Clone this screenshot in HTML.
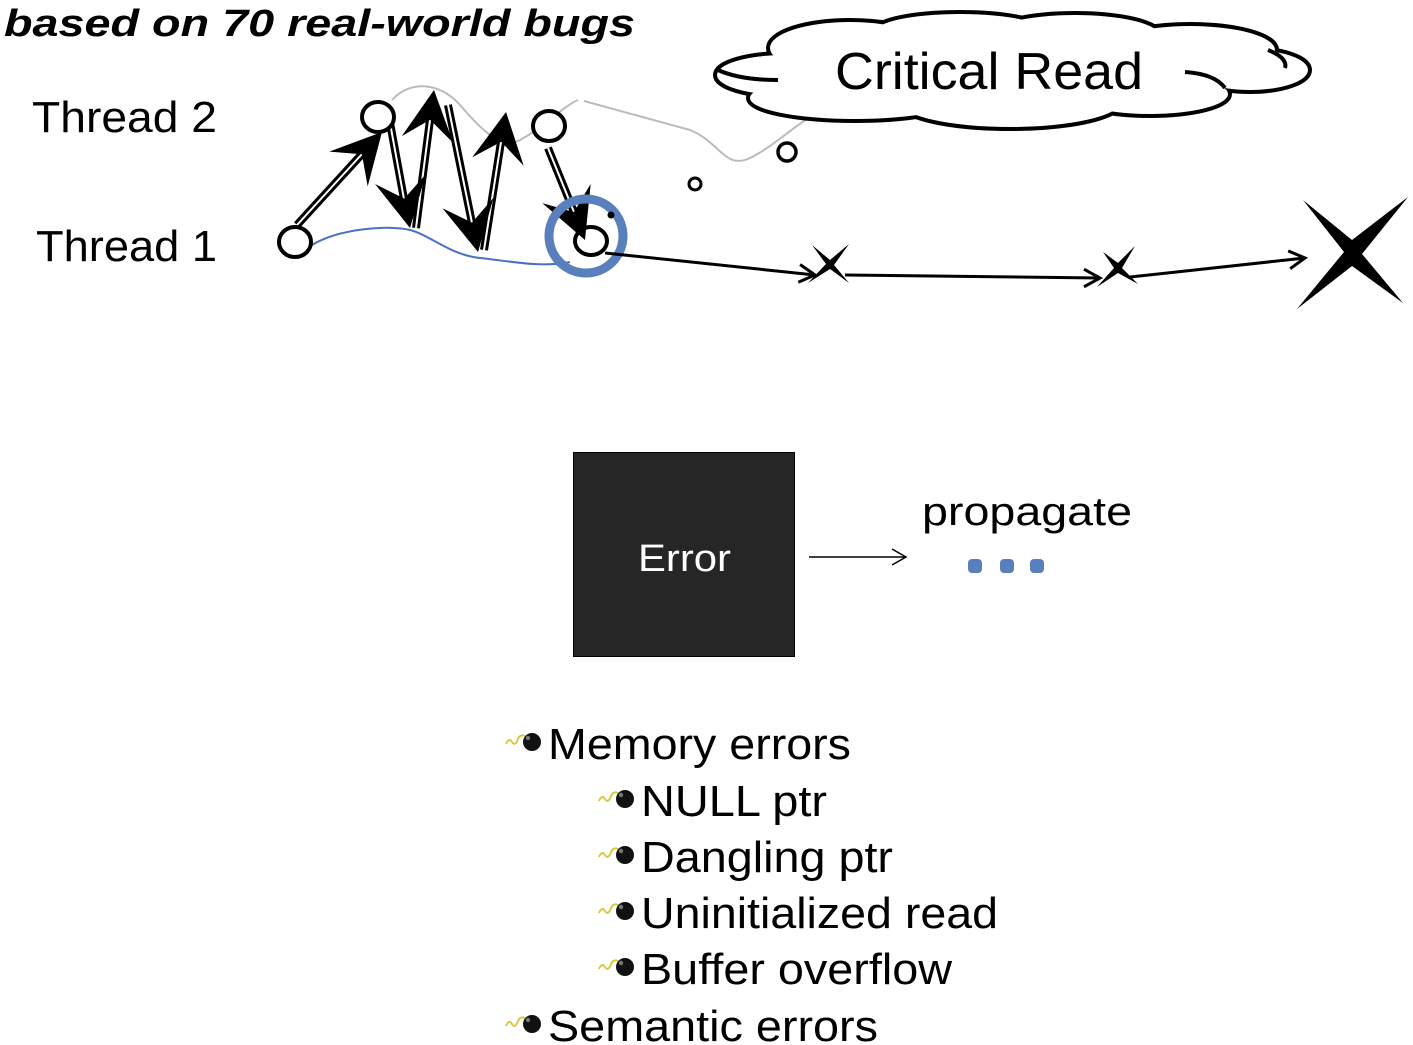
<!DOCTYPE html>
<html><head><meta charset="utf-8"><style>
html,body{margin:0;padding:0;background:#fff;}
svg{display:block;}
text{font-family:"Liberation Sans",sans-serif;}
</style></head><body>
<svg width="1413" height="1045" viewBox="0 0 1413 1045" xmlns="http://www.w3.org/2000/svg">
<defs>
<g id="bomb">
<path d="M0,7 q3,-7 6,-2 q3,5 6,-3 q2,-5 7,-3" fill="none" stroke="#d8c830" stroke-width="1.8"/>
<circle cx="26" cy="5" r="9" fill="#111"/>
<circle cx="22" cy="1" r="2.2" fill="#777"/>
</g>
</defs>

<text x="4" y="36" font-size="38" font-weight="bold" font-style="italic" textLength="631" lengthAdjust="spacingAndGlyphs">based on 70 real-world bugs</text>
<text x="32" y="132" font-size="44" textLength="185" lengthAdjust="spacingAndGlyphs">Thread 2</text>
<text x="36" y="261" font-size="44" textLength="181" lengthAdjust="spacingAndGlyphs">Thread 1</text>

<path d="M392,100 C410,80 440,82 460,105 S500,150 520,140 S565,105 578,100" fill="none" stroke="#bbb" stroke-width="2"/>
<path d="M584,101 L690,130 C720,142 725,170 750,158 S800,120 820,112" fill="none" stroke="#bbb" stroke-width="2"/>
<path d="M312,245 C340,228 390,225 410,230 S450,255 480,258 S540,268 570,262" fill="none" stroke="#4a72c0" stroke-width="2"/>

<g stroke-linecap="butt">
<line x1="297" y1="225" x2="362" y2="154" stroke="#000" stroke-width="8"/>
<line x1="297" y1="225" x2="362" y2="154" stroke="#fff" stroke-width="2"/>
<line x1="388" y1="112" x2="404" y2="199" stroke="#000" stroke-width="8"/>
<line x1="388" y1="112" x2="404" y2="199" stroke="#fff" stroke-width="2"/>
<line x1="416" y1="228" x2="430" y2="120" stroke="#000" stroke-width="8"/>
<line x1="416" y1="228" x2="430" y2="120" stroke="#fff" stroke-width="2"/>
<line x1="448" y1="105" x2="472" y2="223" stroke="#000" stroke-width="8"/>
<line x1="448" y1="105" x2="472" y2="223" stroke="#fff" stroke-width="2"/>
<line x1="484" y1="250" x2="501" y2="142" stroke="#000" stroke-width="8"/>
<line x1="484" y1="250" x2="501" y2="142" stroke="#fff" stroke-width="2"/>
<line x1="548" y1="148" x2="574" y2="212" stroke="#000" stroke-width="8"/>
<line x1="548" y1="148" x2="574" y2="212" stroke="#fff" stroke-width="2"/>
</g>
<g fill="#000">
<polygon points="382,132 367.7,186.4 361.9,154.2 329.3,151.6"/>
<polygon points="410,228 375,184 404.3,198.6 426,174"/>
<polygon points="434,90 453.2,142.9 430.1,119.7 401.8,136.1"/>
<polygon points="478,252 442.5,208.2 472,222.6 493.5,197.8"/>
<polygon points="506,112 523.7,165.7 501.2,141.7 472.3,157.3"/>
<polygon points="585,240 542.3,203.1 573.9,212.1 590.7,183.9"/>
</g>

<g fill="#fff" stroke="#000" stroke-width="4">
<ellipse cx="295" cy="242" rx="16" ry="15"/>
<ellipse cx="378" cy="117" rx="16" ry="15"/>
<ellipse cx="549" cy="126" rx="16" ry="15"/>
</g>
<circle cx="586" cy="236" r="37" fill="none" stroke="#5a7fbd" stroke-width="9"/>
<ellipse cx="591" cy="241" rx="16" ry="14" fill="none" stroke="#000" stroke-width="4"/>
<circle cx="611" cy="215" r="3.5" fill="#000"/>
<circle cx="695" cy="184" r="6" fill="none" stroke="#000" stroke-width="3"/>
<circle cx="787" cy="152" r="9" fill="none" stroke="#000" stroke-width="3.5"/>

<g fill="none" stroke="#000" stroke-width="3">
<line x1="605" y1="253" x2="815" y2="275"/>
<polyline points="798.3,282.3 815,275 800.1,264.5"/>
<line x1="845" y1="275" x2="1100" y2="278"/>
<polyline points="1084,286.8 1100,278 1084,269.2"/>
<line x1="1130" y1="277" x2="1305" y2="258"/>
<polyline points="1290.2,268.7 1305,258 1288.2,250.9"/>
</g>
<path d="M808,283 L826,264 L812,245 L830,260 L849,244 L834,265 L849,283 L830,269 Z" fill="#000"/>
<path d="M1097,287 L1114,268 L1103,252 L1118,263 L1135,246 L1122,268 L1138,284 L1118,273 Z" fill="#000"/>
<path d="M1297,309 L1344,252 L1303,200 L1352,240 L1408,197 L1362,254 L1403,303 L1352,266 Z" fill="#000"/>

<g fill="#fff" stroke="#000" stroke-width="8">
<ellipse cx="785" cy="75" rx="68" ry="20"/>
<ellipse cx="850" cy="48" rx="80" ry="26"/>
<ellipse cx="960" cy="32" rx="85" ry="18"/>
<ellipse cx="1075" cy="36" rx="85" ry="21"/>
<ellipse cx="1190" cy="50" rx="85" ry="24"/>
<ellipse cx="1250" cy="70" rx="58" ry="20"/>
<ellipse cx="1150" cy="94" rx="78" ry="20"/>
<ellipse cx="1010" cy="102" rx="110" ry="25"/>
<ellipse cx="855" cy="98" rx="105" ry="21"/>
</g>
<g fill="#fff" stroke="none">
<ellipse cx="785" cy="75" rx="68" ry="20"/>
<ellipse cx="850" cy="48" rx="80" ry="26"/>
<ellipse cx="960" cy="32" rx="85" ry="18"/>
<ellipse cx="1075" cy="36" rx="85" ry="21"/>
<ellipse cx="1190" cy="50" rx="85" ry="24"/>
<ellipse cx="1250" cy="70" rx="58" ry="20"/>
<ellipse cx="1150" cy="94" rx="78" ry="20"/>
<ellipse cx="1010" cy="102" rx="110" ry="25"/>
<ellipse cx="855" cy="98" rx="105" ry="21"/>
<ellipse cx="1010" cy="70" rx="240" ry="34"/>
</g>
<g fill="none" stroke="#000" stroke-width="4">
<path d="M718,70 Q740,80 778,80"/>
<path d="M1185,72 Q1215,74 1225,88"/>
<path d="M1268,50 Q1288,58 1285,68"/>
</g>
<text x="835" y="89" font-size="52" textLength="308" lengthAdjust="spacingAndGlyphs">Critical Read</text>

<rect x="573.5" y="452.5" width="221" height="204" fill="#262626" stroke="#000" stroke-width="1"/>
<text x="638" y="571" font-size="38" fill="#fff" textLength="93" lengthAdjust="spacingAndGlyphs">Error</text>
<g fill="none" stroke="#000" stroke-width="1.5">
<line x1="809" y1="557" x2="906" y2="557"/>
<polyline points="892,549 906,557 892,565"/>
</g>
<text x="922" y="525" font-size="40" textLength="210" lengthAdjust="spacingAndGlyphs">propagate</text>
<g fill="#5a7fbd">
<rect x="968" y="559" width="14" height="14" rx="4"/>
<rect x="1000" y="559" width="14" height="14" rx="4"/>
<rect x="1030" y="559" width="14" height="14" rx="4"/>
</g>

<use href="#bomb" x="506" y="737"/>
<text x="548" y="759" font-size="44" textLength="303" lengthAdjust="spacingAndGlyphs">Memory errors</text>
<use href="#bomb" x="599" y="794"/>
<text x="641" y="816" font-size="44" textLength="186" lengthAdjust="spacingAndGlyphs">NULL ptr</text>
<use href="#bomb" x="599" y="850"/>
<text x="641" y="872" font-size="44" textLength="252" lengthAdjust="spacingAndGlyphs">Dangling ptr</text>
<use href="#bomb" x="599" y="906"/>
<text x="641" y="928" font-size="44" textLength="357" lengthAdjust="spacingAndGlyphs">Uninitialized read</text>
<use href="#bomb" x="599" y="962"/>
<text x="641" y="984" font-size="44" textLength="311" lengthAdjust="spacingAndGlyphs">Buffer overflow</text>
<use href="#bomb" x="506" y="1019"/>
<text x="548" y="1041" font-size="44" textLength="330" lengthAdjust="spacingAndGlyphs">Semantic errors</text>
</svg>
</body></html>
